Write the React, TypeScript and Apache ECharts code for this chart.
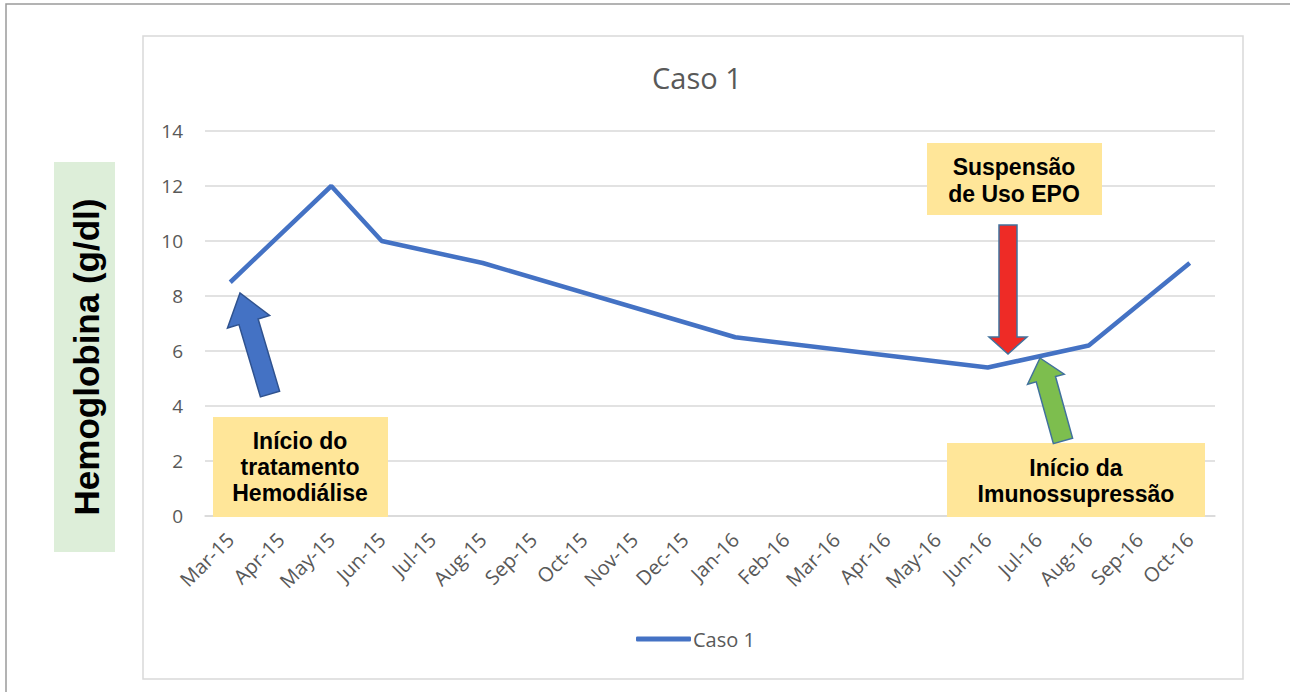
import React, { useEffect, useRef } from "react";
import * as echarts from "echarts";

const categories = [
  "Mar-15", "Apr-15", "May-15", "Jun-15", "Jul-15", "Aug-15", "Sep-15", "Oct-15",
  "Nov-15", "Dec-15", "Jan-16", "Feb-16", "Mar-16", "Apr-16", "May-16", "Jun-16",
  "Jul-16", "Aug-16", "Sep-16", "Oct-16",
];
const caso1 = [
  8.5, null, 12, 10, null, 9.2, null, null, null, null, 6.5, null, null, null, null,
  5.4, null, 6.2, null, 9.2,
];
const yTicks = { min: 0, max: 14, interval: 2 };
const seriesName = "Caso 1";
const yAxisTitle = "Hemoglobina (g/dl)";
const notes = {
  start: "Início do\ntratamento\nHemodiálise",
  epo: "Suspensão\nde Uso EPO",
  immuno: "Início da\nImunossupressão",
};

function arrowPts(tx: number, ty: number, hx: number, hy: number, sw: number, hw: number, hl: number) {
  const dx = hx - tx, dy = hy - ty;
  const len = Math.sqrt(dx * dx + dy * dy);
  const ux = dx / len, uy = dy / len;
  const nx = -uy, ny = ux;
  const bx = hx - hl * ux, by = hy - hl * uy;
  return [
    [tx + sw * nx, ty + sw * ny],
    [bx + sw * nx, by + sw * ny],
    [bx + hw * nx, by + hw * ny],
    [hx, hy],
    [bx - hw * nx, by - hw * ny],
    [bx - sw * nx, by - sw * ny],
    [tx - sw * nx, ty - sw * ny],
  ];
}

export default function App() {
  const ref = useRef<HTMLDivElement>(null);
  useEffect(() => {
    document.body.style.margin = "0";
    const chart = echarts.init(ref.current!, null, { renderer: "svg" });
    const noteFont = 'bold 23px "Liberation Sans", Arial, sans-serif';
    const yellow = "#FFE699";
    chart.setOption({
      animation: false,
      backgroundColor: "#ffffff",
      title: {
        text: "Caso 1",
        left: 647,
        top: 58,
        textStyle: { fontFamily: "Open Sans", fontSize: 29, fontWeight: "normal", color: "#595959" },
      },
      legend: {
        left: 631,
        top: 624,
        icon: "roundRect",
        itemWidth: 55,
        itemHeight: 5,
        itemGap: 10,
        textStyle: { fontFamily: "Open Sans", fontSize: 20, color: "#595959", padding: [0, 0, 0, -3] },
        data: [seriesName],
      },
      grid: { left: 205, right: 75, top: 131, bottom: 176, containLabel: false },
      xAxis: {
        type: "category",
        data: categories,
        boundaryGap: true,
        axisLine: { show: true, lineStyle: { color: "#d9d9d9", width: 1.5 } },
        axisTick: { show: false },
        axisLabel: {
          rotate: 45,
          interval: 0,
          margin: 20,
          fontFamily: "Open Sans",
          fontSize: 20,
          color: "#595959",
        },
      },
      yAxis: {
        type: "value",
        min: yTicks.min,
        max: yTicks.max,
        interval: yTicks.interval,
        axisLine: { show: false },
        axisTick: { show: false },
        splitLine: { lineStyle: { color: "#d9d9d9", width: 1.5 } },
        axisLabel: { margin: 22, fontFamily: "Open Sans", fontSize: 19, color: "#595959" },
      },
      series: [
        {
          name: seriesName,
          type: "line",
          data: caso1,
          connectNulls: true,
          symbol: "none",
          lineStyle: { color: "#4472C4", width: 4.5 },
          itemStyle: { color: "#4472C4" },
          z: 3,
        },
      ],
      graphic: [
        { type: "rect", shape: { x: 6, y: 4, width: 1320, height: 720 }, style: { fill: "none", stroke: "#9a9a9a", lineWidth: 1.5 }, silent: true, z: -10 },
        { type: "rect", shape: { x: 143, y: 36, width: 1100, height: 643 }, style: { fill: "none", stroke: "#d9d9d9", lineWidth: 1.5 }, silent: true, z: -9 },
        { type: "rect", shape: { x: 54, y: 162, width: 61, height: 390 }, style: { fill: "#DDEED9" }, silent: true },
        {
          type: "text", x: 86, y: 357, rotation: Math.PI / 2,
          style: { text: yAxisTitle, font: 'bold 35px "Liberation Sans", Arial, sans-serif', fill: "#000", textAlign: "center", textVerticalAlign: "middle" },
          silent: true,
        },
        // annotation boxes
        { type: "rect", shape: { x: 213, y: 417, width: 175, height: 100 }, style: { fill: yellow }, silent: true, z: 10 },
        { type: "text", x: 300, y: 467, style: { text: notes.start, font: noteFont, lineHeight: 26, fill: "#000", textAlign: "center", textVerticalAlign: "middle" }, silent: true, z: 11 },
        { type: "rect", shape: { x: 927, y: 143, width: 175, height: 72 }, style: { fill: yellow }, silent: true, z: 10 },
        { type: "text", x: 1014, y: 180, style: { text: notes.epo, font: noteFont, lineHeight: 27, fill: "#000", textAlign: "center", textVerticalAlign: "middle" }, silent: true, z: 11 },
        { type: "rect", shape: { x: 947, y: 443, width: 258, height: 74 }, style: { fill: yellow }, silent: true, z: 10 },
        { type: "text", x: 1076, y: 481, style: { text: notes.immuno, font: noteFont, lineHeight: 26, fill: "#000", textAlign: "center", textVerticalAlign: "middle" }, silent: true, z: 11 },
        // arrows
        { type: "polygon", shape: { points: arrowPts(270, 394, 240, 293, 10, 22, 30) }, style: { fill: "#4472C4", stroke: "#2F528F", lineWidth: 1.5 }, silent: true, z: 12 },
        { type: "polygon", shape: { points: arrowPts(1008, 225, 1008, 354, 9, 19, 17) }, style: { fill: "#EE2B26", stroke: "#41719C", lineWidth: 1.5 }, silent: true, z: 12 },
        { type: "polygon", shape: { points: arrowPts(1063, 441, 1040, 358, 10, 19, 22) }, style: { fill: "#7DBE4E", stroke: "#41719C", lineWidth: 1.5 }, silent: true, z: 12 },
      ],
    });
    return () => chart.dispose();
  }, []);
  return <div ref={ref} style={{ width: 1290, height: 692 }} />;
}
